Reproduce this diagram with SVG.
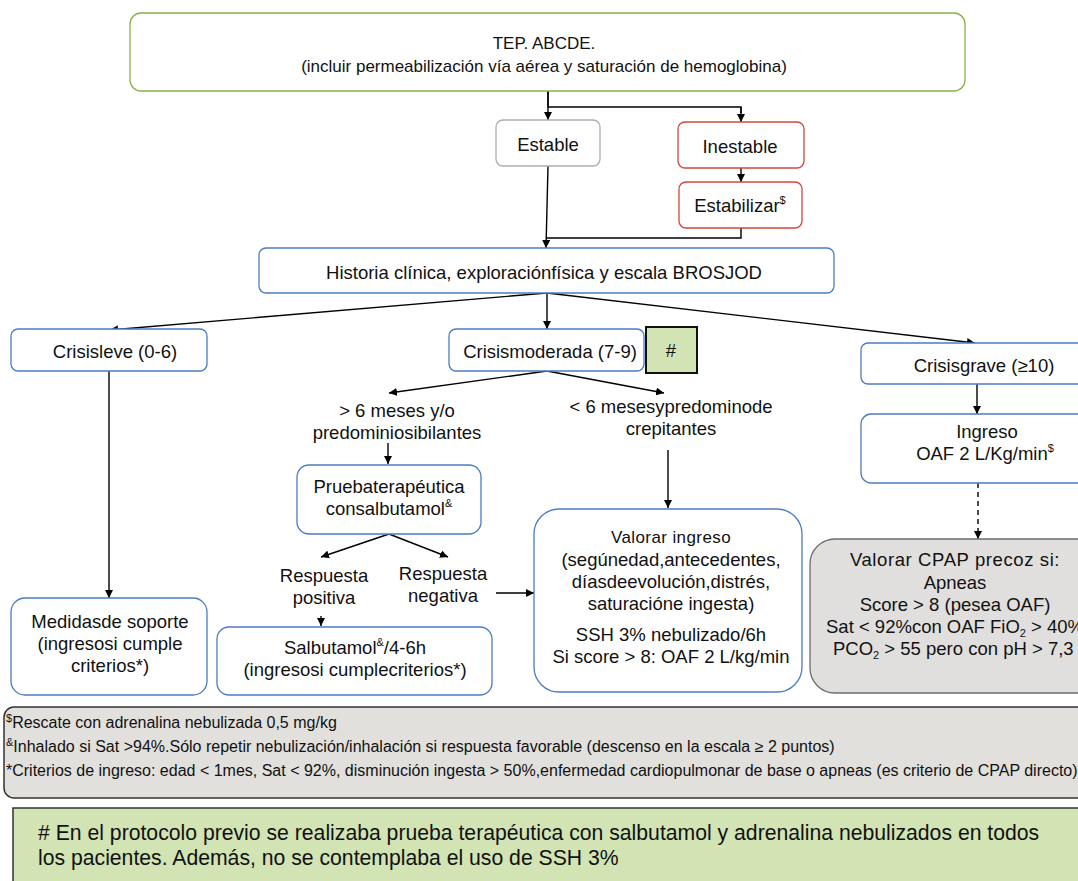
<svg xmlns="http://www.w3.org/2000/svg" width="1078" height="881" viewBox="0 0 1078 881">
<defs>
<marker id="ah" viewBox="0 0 10 10" refX="10" refY="5" markerWidth="8" markerHeight="8" markerUnits="userSpaceOnUse" orient="auto"><path d="M0,0 L10,5 L0,10 z" fill="#000"/></marker>
<style>
text{font-family:"Liberation Sans",Arial,sans-serif;fill:#111;}
.t{font-size:18.5px;text-anchor:middle;}
.s{font-size:17px;text-anchor:middle;}
.n{font-size:16px;}
.sup{font-size:11px;}
.blue{fill:#fff;stroke:#4a7cc4;stroke-width:1.3;}
.red{fill:#fff;stroke:#d9443a;stroke-width:1.3;}
.gray{fill:#fff;stroke:#b0aca8;stroke-width:1.3;}
.green{fill:#fff;stroke:#86b04c;stroke-width:1.3;}
.c{fill:none;stroke:#000;stroke-width:1.4;}
.ca{fill:none;stroke:#000;stroke-width:1.4;marker-end:url(#ah);}
</style>
</defs>
<rect width="1078" height="881" fill="#fff"/>

<g id="connectors">
<path class="c" d="M548,91 V107 H741 V113"/>
<path class="ca" d="M741,107 V122"/>
<path class="ca" d="M548,91 V120"/>
<path class="ca" d="M741,168 V182"/>
<path class="c" d="M741,228 V238 H546"/>
<path class="ca" d="M548,166 L546,248"/>
<path class="ca" d="M547,293 L110,330"/>
<path class="ca" d="M547,293 V329"/>
<path class="ca" d="M547,293 L975,343"/>
<path class="ca" d="M547,371 L389,393"/>
<path class="ca" d="M547,371 L664,393"/>
<path class="ca" d="M388,443 V464"/>
<path class="ca" d="M389,534 L321,557"/>
<path class="ca" d="M389,534 L448,557"/>
<path class="ca" d="M321,616 V626"/>
<path class="ca" d="M496,593 H534"/>
<path class="ca" d="M668,450 V508"/>
<path class="ca" d="M109,371 V598"/>
<path class="ca" d="M977,384 V414"/>
<path class="ca" d="M978,483 V539" stroke-dasharray="5,4"/>
</g>

<g id="tep">
<rect class="green" x="130" y="13" width="835" height="78" rx="11"/>
<text class="s" x="544" y="49">TEP. ABCDE.</text>
<text class="s" x="544" y="72">(incluir permeabilización vía aérea y saturación de hemoglobina)</text>
</g>

<g id="estable">
<rect class="gray" x="496" y="120" width="104" height="46" rx="7"/>
<text class="t" x="548" y="151">Estable</text>
</g>

<g id="inestable">
<rect class="red" x="678" y="122" width="126" height="46" rx="7"/>
<text class="t" x="740" y="153">Inestable</text>
</g>

<g id="estabilizar">
<rect class="red" x="679" y="182" width="123" height="46" rx="7"/>
<text class="t" x="740" y="212">Estabilizar<tspan class="sup" dy="-8">$</tspan></text>
</g>

<g id="historia">
<rect class="blue" x="259" y="248" width="575" height="45" rx="7"/>
<text class="t" x="544" y="279">Historia clínica, exploraciónfísica y escala BROSJOD</text>
</g>

<g id="leve">
<rect class="blue" x="11" y="329" width="196" height="42" rx="7"/>
<text class="t" x="115" y="358">Crisisleve (0-6)</text>
</g>

<g id="moderada">
<rect class="blue" x="449" y="329" width="195" height="42" rx="7"/>
<text class="t" x="550" y="358">Crisismoderada (7-9)</text>
</g>

<g id="hash">
<rect x="646" y="327" width="51" height="46" fill="#d2e4b4" stroke="#111" stroke-width="2"/>
<text class="t" x="671" y="357">#</text>
</g>

<g id="grave">
<rect class="blue" x="861" y="343" width="240" height="41" rx="7"/>
<text class="t" x="984" y="372">Crisisgrave (≥10)</text>
</g>

<g id="mayor6">
<text class="t" x="397" y="417">&gt; 6 meses y/o</text>
<text class="t" x="397" y="439">predominiosibilantes</text>
</g>

<g id="menor6">
<text class="t" x="671" y="413">&lt; 6 mesesypredominode</text>
<text class="t" x="671" y="435">crepitantes</text>
</g>

<g id="prueba">
<rect class="blue" x="297" y="465" width="184" height="69" rx="12"/>
<text class="t" x="389" y="493">Pruebaterapéutica</text>
<text class="t" x="389" y="515">consalbutamol<tspan class="sup" dy="-8">&amp;</tspan></text>
</g>

<g id="positiva">
<text class="t" x="324" y="582">Respuesta</text>
<text class="t" x="324" y="604">positiva</text>
</g>

<g id="negativa">
<text class="t" x="443" y="580">Respuesta</text>
<text class="t" x="443" y="602">negativa</text>
</g>

<g id="salbutamol">
<rect class="blue" x="217" y="627" width="275" height="68" rx="12"/>
<text class="t" x="355" y="654">Salbutamol<tspan class="sup" dy="-8">&amp;</tspan><tspan dy="8">/4-6h</tspan></text>
<text class="t" x="355" y="676">(ingresosi cumplecriterios*)</text>
</g>

<g id="valorar">
<rect class="blue" x="534" y="509" width="268" height="183" rx="25"/>
<text x="671" y="543" font-size="17" text-anchor="middle" letter-spacing="0.4">Valorar ingreso</text>
<text class="t" x="671" y="566" font-size="18">(segúnedad,antecedentes,</text>
<text class="t" x="671" y="588">díasdeevolución,distrés,</text>
<text class="t" x="671" y="610">saturacióne ingesta)</text>
<text class="t" x="671" y="641">SSH 3% nebulizado/6h</text>
<text class="t" x="671" y="663">Si score &gt; 8: OAF 2 L/kg/min</text>
</g>

<g id="medidas">
<rect class="blue" x="11" y="598" width="196" height="97" rx="14"/>
<text class="t" x="110" y="628">Medidasde soporte</text>
<text class="t" x="110" y="650">(ingresosi cumple</text>
<text class="t" x="110" y="672">criterios*)</text>
</g>

<g id="ingreso">
<rect class="blue" x="861" y="414" width="240" height="69" rx="10"/>
<text class="t" x="987" y="438">Ingreso</text>
<text class="t" x="985" y="460">OAF 2 L/Kg/min<tspan class="sup" dy="-8">$</tspan></text>
</g>

<g id="cpap">
<rect x="810" y="539" width="300" height="154" rx="25" fill="#e0dfdd" stroke="#6e6e6e" stroke-width="1.3"/>
<text class="t" x="955" y="566" letter-spacing="0.6">Valorar CPAP precoz si:</text>
<text class="t" x="955" y="589">Apneas</text>
<text class="t" x="955" y="611">Score &gt; 8 (pesea OAF)</text>
<text x="826" y="633" font-size="18.5">Sat &lt; 92%con OAF FiO<tspan class="sup" dy="4">2</tspan><tspan dy="-4"> &gt; 40%</tspan></text>
<text x="833" y="655" font-size="18.5">PCO<tspan class="sup" dy="4">2</tspan><tspan dy="-4"> &gt; 55 pero con pH &gt; 7,3</tspan></text>
</g>

<g id="notes">
<rect x="4" y="707" width="1100" height="91" rx="10" fill="#e1e0dd" stroke="#333" stroke-width="1.5"/>
<text class="n" x="6" y="728"><tspan class="sup" dy="-6">$</tspan><tspan dy="6">Rescate con adrenalina nebulizada 0,5 mg/kg</tspan></text>
<text class="n" x="6" y="752"><tspan class="sup" dy="-6">&amp;</tspan><tspan dy="6">Inhalado si Sat &gt;94%.Sólo repetir nebulización/inhalación si respuesta favorable (descenso en la escala ≥ 2 puntos)</tspan></text>
<text class="n" x="6" y="776">*Criterios de ingreso: edad &lt; 1mes, Sat &lt; 92%, disminución ingesta &gt; 50%,enfermedad cardiopulmonar de base o apneas (es criterio de CPAP directo)</text>
</g>

<g id="previo">
<rect x="13" y="808" width="1090" height="90" fill="#d2e4b4" stroke="#333" stroke-width="1.5"/>
<text x="38" y="840" font-size="21.2">#  En el protocolo previo se realizaba prueba terapéutica con salbutamol y adrenalina nebulizados en todos</text>
<text x="38" y="865" font-size="21.2">los pacientes. Además, no se contemplaba el uso de SSH 3%</text>
</g>
</svg>
